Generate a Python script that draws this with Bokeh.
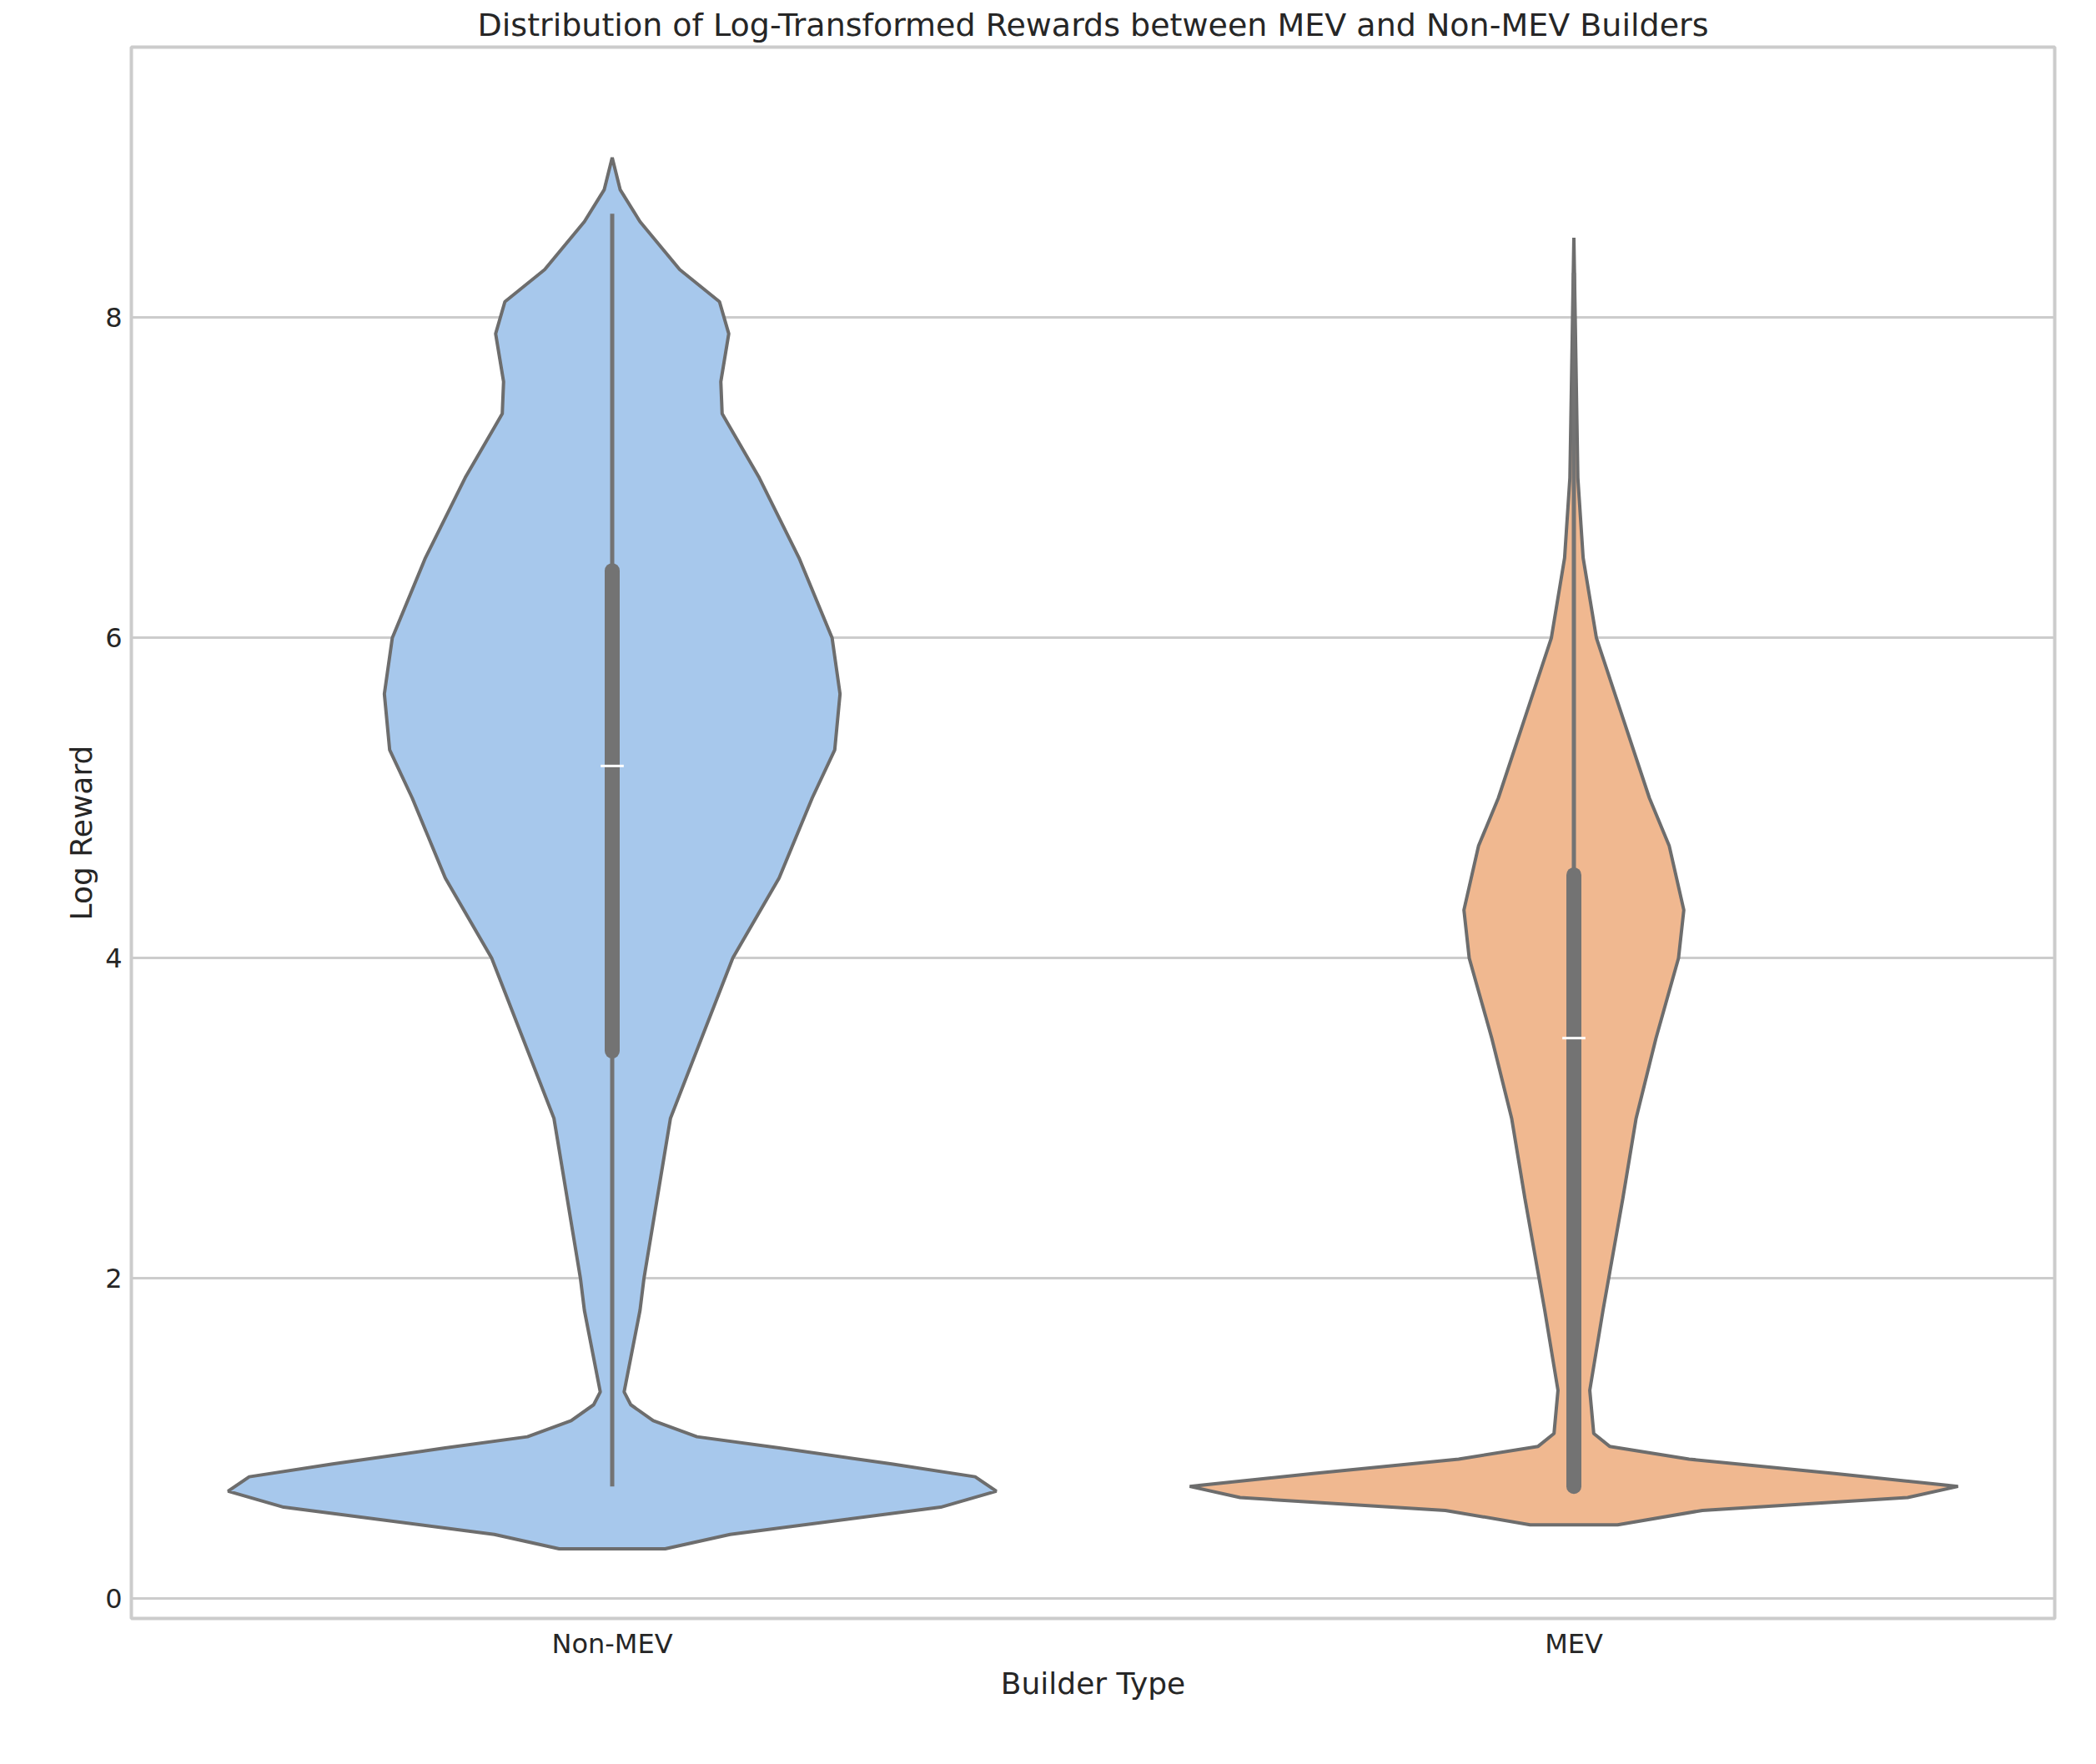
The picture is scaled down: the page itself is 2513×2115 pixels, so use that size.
from bokeh.plotting import figure
from bokeh.embed import file_html
from bokeh.resources import INLINE
from bokeh.models import FixedTicker

categories = ["Non-MEV", "MEV"]
colors = ["#a7c8ec", "#f0b890"]

# violin outlines: y values and half-widths (in category units)
nonmev_y = [0.31, 0.40, 0.57, 0.67, 0.76, 0.84, 0.94, 1.01, 1.11, 1.21, 1.29, 1.8, 2.0, 3.0, 4.0, 4.5, 5.0, 5.3, 5.65, 6.0, 6.5, 7.0, 7.4, 7.6, 7.9, 8.1, 8.3, 8.6, 8.8, 9.0]
nonmev_w = [40, 89, 248, 290, 274, 211, 126, 64, 31, 14, 9, 21, 24, 44, 91, 126, 151, 168, 172, 166, 141, 111, 83, 82, 88, 81, 51, 21, 6, 0]
mev_y = [0.46, 0.55, 0.63, 0.70, 0.78, 0.87, 0.95, 1.03, 1.3, 1.8, 2.5, 3.0, 3.5, 4.0, 4.3, 4.7, 5.0, 5.5, 6.0, 6.5, 7.0, 8.0, 8.5]
mev_w = [33, 97, 252, 290, 197, 87, 27, 15, 12, 22, 37, 47, 62, 79, 83, 72, 57, 37, 17, 7, 3, 1, 0]

q1 = [3.42, 0.70]
q3 = [6.42, 4.52]
medians = [5.2, 3.5]
whisk_lo = [0.70, 0.68]
whisk_hi = [8.65, 8.28]

p = figure(width=2497, height=2090, x_range=(-0.5, 1.5), y_range=(-0.125, 9.69),
           output_backend="svg", toolbar_location=None,
           title="Distribution of Log-Transformed Rewards between MEV and Non-MEV Builders",
           x_axis_label="Builder Type", y_axis_label="Log Reward",
           min_border_left=157, min_border_right=34, min_border_top=10, min_border_bottom=150)

for i, (ys, ws) in enumerate([(nonmev_y, nonmev_w), (mev_y, mev_w)]):
    hw = [w / 726 for w in ws]
    xs = [i + h for h in hw] + [i - h for h in reversed(hw)]
    yy = list(ys) + list(reversed(ys))
    p.patch(xs, yy, fill_color=colors[i], line_color="#6d6d6d", line_width=4)
    p.segment(x0=[i], y0=[whisk_lo[i]], x1=[i], y1=[whisk_hi[i]], line_color="#737373", line_width=5)
    p.segment(x0=[i], y0=[q1[i]], x1=[i], y1=[q3[i]], line_color="#737373", line_width=18, line_cap="round")
    p.segment(x0=[i - 0.012], y0=[medians[i]], x1=[i + 0.012], y1=[medians[i]], line_color="white", line_width=3)

p.xaxis.ticker = FixedTicker(ticks=[0, 1])
p.xaxis.major_label_overrides = {0: "Non-MEV", 1: "MEV"}
p.yaxis.ticker = FixedTicker(ticks=[0, 2, 4, 6, 8])
for ax in (p.xaxis, p.yaxis):
    ax.axis_line_color = None
    ax.major_tick_line_color = None
    ax.minor_tick_line_color = None
    ax.major_label_text_font_size = "32px"
    ax.axis_label_text_font_size = "36px"
    ax.axis_label_text_font_style = "normal"
    ax.major_label_text_color = "#262626"
    ax.axis_label_text_color = "#262626"
    ax.axis_label_text_font = "DejaVu Sans"
    ax.major_label_text_font = "DejaVu Sans"
p.xgrid.grid_line_color = None
p.ygrid.grid_line_color = "#cccccc"
p.ygrid.grid_line_width = 3
p.outline_line_color = "#cccccc"
p.outline_line_width = 4
p.title.text_font_size = "38px"
p.title.text_font_style = "normal"
p.title.align = "center"
p.title.text_font = "DejaVu Sans"
p.title.text_color = "#262626"
p.background_fill_color = "white"

open("out.html", "w").write(file_html(p, INLINE))
